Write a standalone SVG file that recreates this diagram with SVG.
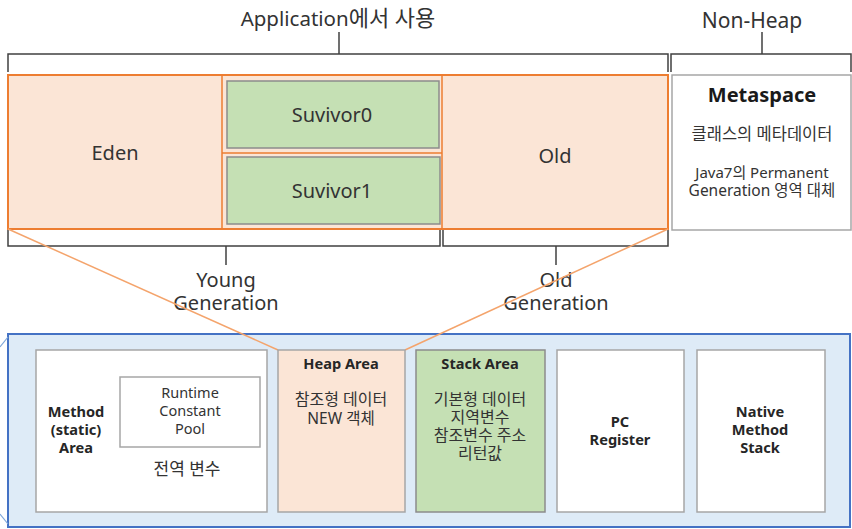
<svg xmlns="http://www.w3.org/2000/svg" width="852" height="529" viewBox="0 0 852 529">
<style>
text{font-family:"Noto Sans","Noto Sans CJK KR",sans-serif;fill:#333;text-anchor:middle}
.big{font-size:20px}
.mid{font-size:15px}
.kr{font-size:16px}
.b{font-weight:bold;font-size:14.6px;fill:#262626}
.bk{fill:none;stroke:#404040;stroke-width:1.5}
.box{fill:#fff;stroke:#a6a6a6;stroke-width:1.5}
.heap{fill:#fbe5d6;stroke:#a6a6a6;stroke-width:1.5}
.green{fill:#c5e0b4;stroke:#8c8c8c;stroke-width:1.5}
.or{stroke:#f4a46c;stroke-width:1.5;fill:none}
</style>
<rect width="852" height="529" fill="#fff"/>

<g id="brackets">
<path class="bk" d="M8,72 V54 H668 V72"/>
<line class="bk" x1="339" y1="32" x2="339" y2="54"/>
<path class="bk" d="M671,72 V54 H851 V72"/>
<line class="bk" x1="762" y1="32" x2="762" y2="54"/>
<path class="bk" d="M8,229 V246 H440 V229"/>
<line class="bk" x1="226" y1="246" x2="226" y2="265"/>
<path class="bk" d="M443,229 V246 H668 V229"/>
<line class="bk" x1="556" y1="246" x2="556" y2="265"/>
<text x="338" y="26" style="font-size:20.5px">Application<tspan style="font-size:22px">에서 사용</tspan></text>
<text x="752" y="28" style="font-size:21px">Non-Heap</text>
<text class="big" x="226" y="287">Young</text>
<text class="big" x="226" y="310">Generation</text>
<text class="big" x="556" y="287">Old</text>
<text class="big" x="556" y="310">Generation</text>
</g>

<g id="bottom-container">
<rect x="8" y="334" width="842" height="193" fill="#deebf7" stroke="#4472c4" stroke-width="2"/>
<line x1="0" y1="347" x2="8" y2="337" stroke="#7fa7d9" stroke-width="1.2"/>
<line x1="0" y1="514" x2="8" y2="524" stroke="#7fa7d9" stroke-width="1.2"/>
</g>

<g id="heap">
<rect x="8" y="75" width="660" height="154" fill="#fbe5d6" stroke="#ed7d31" stroke-width="2"/>
<line x1="222" y1="75" x2="222" y2="229" stroke="#ed7d31" stroke-width="1.5"/>
<line x1="442" y1="75" x2="442" y2="229" stroke="#ed7d31" stroke-width="1.5"/>
<line x1="222" y1="153" x2="442" y2="153" stroke="#ed7d31" stroke-width="1.5"/>
<text class="big" x="115" y="160">Eden</text>
<text class="big" x="555" y="163">Old</text>
</g>
<g id="survivor0">
<rect class="green" x="227" y="81" width="212" height="67"/>
<text class="big" x="332" y="122">Suvivor0</text>
</g>
<g id="survivor1">
<rect class="green" x="227" y="157" width="213" height="67"/>
<text class="big" x="332" y="198">Suvivor1</text>
</g>

<g id="metaspace">
<rect x="672" y="75" width="179" height="155" fill="#fff" stroke="#a6a6a6" stroke-width="1.5"/>
<text x="762" y="102" style="font-weight:bold;font-size:20px;fill:#1a1a1a">Metaspace</text>
<text x="762" y="140" style="font-size:16.5px">클래스의 메타데이터</text>
<text class="mid" x="762" y="178">Java7의 Permanent</text>
<text x="762" y="196" style="font-size:15.5px">Generation 영역 대체</text>
</g>

<g id="connectors">
<line class="or" x1="8" y1="229" x2="278" y2="350"/>
<line class="or" x1="668" y1="229" x2="405" y2="350"/>
</g>

<g id="method-area">
<rect class="box" x="36" y="350" width="231" height="162"/>
<text class="b" x="76" y="417">Method</text>
<text class="b" x="76" y="435">(static)</text>
<text class="b" x="76" y="453">Area</text>
<rect class="box" x="120" y="377" width="140" height="70"/>
<text x="190" y="398" style="font-size:14.5px">Runtime</text>
<text x="190" y="416" style="font-size:14.5px">Constant</text>
<text x="190" y="434" style="font-size:14.5px">Pool</text>
<text x="187" y="475" style="font-size:17px">전역 변수</text>
</g>
<g id="heap-area">
<rect class="heap" x="278" y="350" width="127" height="162"/>
<text class="b" x="341" y="369">Heap Area</text>
<text class="kr" x="341" y="405">참조형 데이터</text>
<text x="341" y="424" style="font-size:15.5px">NEW 객체</text>
</g>
<g id="stack-area">
<rect class="green" x="416" y="350" width="129" height="162"/>
<text class="b" x="480" y="369">Stack Area</text>
<text class="kr" x="480" y="405">기본형 데이터</text>
<text class="kr" x="480" y="423">지역변수</text>
<text class="kr" x="480" y="441">참조변수 주소</text>
<text class="kr" x="480" y="459">리턴값</text>
</g>
<g id="pc-register">
<rect class="box" x="557" y="350" width="127" height="162"/>
<text class="b" x="620" y="427">PC</text>
<text class="b" x="620" y="445">Register</text>
</g>
<g id="native-method-stack">
<rect class="box" x="697" y="350" width="128" height="162"/>
<text class="b" x="760" y="417">Native</text>
<text class="b" x="760" y="435">Method</text>
<text class="b" x="760" y="453">Stack</text>
</g>
</svg>
